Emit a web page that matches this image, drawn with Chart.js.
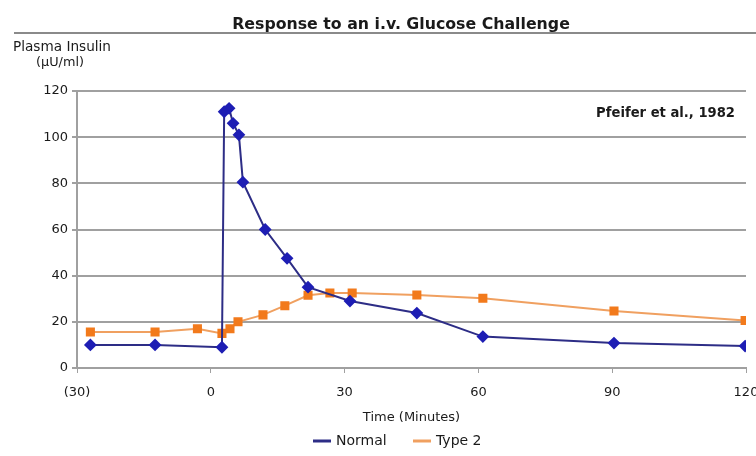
<!DOCTYPE html>
<html lang="en">
<head>
    <meta charset="UTF-8">
    <title>Response to an i.v. Glucose Challenge</title>
    <script src="https://cdn.jsdelivr.net/npm/chart.js"></script>
    <style>
        html, body { margin: 0; padding: 0; background: #fff; overflow: hidden; }
        #wrap { position: relative; width: 756px; height: 456px; }
    </style>
</head>
<body>
    <div id="wrap"><canvas id="insulinChart"></canvas></div>

    <script>
        // Normal subjects (minutes / µU/ml)
        const normalTime = [-27, -12.5, 2.5, 3.0, 4.1, 5.0, 6.3, 7.2, 12.2, 17.1, 21.8, 31.2, 46.2, 61, 90.4, 119.8];
        const normalInsulin = [10, 10, 9, 111, 112.5, 106, 101, 80.5, 60, 47.5, 35, 29, 23.8, 13.6, 10.8, 9.5];

        // Type 2 subjects
        const type2Time = [-27, -12.5, -3, 2.5, 4.3, 6.1, 11.7, 16.6, 21.8, 26.7, 31.7, 46.2, 61, 90.4, 119.8];
        const type2Insulin = [15.6, 15.6, 17, 15, 17, 20, 23, 27, 31.5, 32.5, 32.5, 31.6, 30.2, 24.7, 20.6];

        const xTicks = [-30, 0, 30, 60, 90, 120];
        const yTicks = [0, 20, 40, 60, 80, 100, 120];
        const seriesNames = ["Normal", "Type 2"];

        const font = "'DejaVu Sans', 'Liberation Sans', sans-serif";

        // pick a font size so the text spans the given width
        function fitFont(ctx, text, width, weight) {
            ctx.font = weight + " 20px " + font;
            const w = ctx.measureText(text).width;
            return weight + " " + (20 * width / w).toFixed(2) + "px " + font;
        }

        // title, y label, citation and legend drawn by hand to match the slide
        const decorations = {
            id: "decorations",
            afterDraw(chart) {
                const ctx = chart.ctx;
                ctx.save();
                ctx.fillStyle = "#1a1a1a";
                ctx.textBaseline = "middle";
                ctx.textAlign = "center";

                let t = "Response to an i.v. Glucose Challenge";
                ctx.font = fitFont(ctx, t, 338, "bold");
                ctx.fillText(t, 401, 25);

                ctx.strokeStyle = "#8a8a8a";
                ctx.lineWidth = 2;
                ctx.beginPath();
                ctx.moveTo(14, 33);
                ctx.lineTo(756, 33);
                ctx.stroke();

                t = "Plasma Insulin";
                ctx.font = fitFont(ctx, t, 98, "normal");
                ctx.fillText(t, 62, 47);
                t = "(\u00b5U/ml)";
                ctx.font = fitFont(ctx, t, 48, "normal");
                ctx.fillText(t, 60, 63);

                t = "Pfeifer et al., 1982";
                ctx.font = fitFont(ctx, t, 139, "bold");
                ctx.textAlign = "right";
                ctx.fillText(t, 735, 114);

                // legend
                ctx.font = "14px " + font;
                ctx.textAlign = "left";
                const items = [
                    { x: 313, color: "#2d2d86" },
                    { x: 413, color: "#f0a060" }
                ];
                items.forEach((it, i) => {
                    ctx.strokeStyle = it.color;
                    ctx.lineWidth = 3;
                    ctx.beginPath();
                    ctx.moveTo(it.x, 441);
                    ctx.lineTo(it.x + 18, 441);
                    ctx.stroke();
                    ctx.fillText(seriesNames[i], it.x + 23, 441);
                });
                ctx.restore();
            }
        };

        new Chart(document.getElementById("insulinChart"), {
            type: "scatter",
            data: {
                datasets: [
                    {
                        label: seriesNames[0],
                        data: normalTime.map((t, i) => ({ x: t, y: normalInsulin[i] })),
                        showLine: true,
                        borderColor: "#2d2d86",
                        borderWidth: 2,
                        pointStyle: "rectRot",
                        pointRadius: 5,
                        pointBackgroundColor: "#1e1eb4",
                        pointBorderColor: "#1e1eb4",
                        order: 1
                    },
                    {
                        label: seriesNames[1],
                        data: type2Time.map((t, i) => ({ x: t, y: type2Insulin[i] })),
                        showLine: true,
                        borderColor: "#f0a060",
                        borderWidth: 2,
                        pointStyle: "rect",
                        pointRadius: 5,
                        pointBackgroundColor: "#f27a1c",
                        pointBorderColor: "#f27a1c",
                        order: 2
                    }
                ]
            },
            options: {
                responsive: true,
                maintainAspectRatio: false,
                animation: false,
                layout: { padding: { top: 91, left: 0, right: 0, bottom: 27 } },
                plugins: {
                    legend: { display: false },
                    tooltip: { enabled: false }
                },
                scales: {
                    x: {
                        type: "linear",
                        min: -30,
                        max: 120,
                        afterBuildTicks: s => { s.ticks = xTicks.map(v => ({ value: v })); },
                        afterFit: s => { s.height = 61; s.paddingLeft = 0; s.paddingRight = 10; },
                        ticks: {
                            color: "#1a1a1a",
                            font: { family: font, size: 13 },
                            padding: 12,
                            maxRotation: 0,
                            callback: v => v < 0 ? "(" + (-v) + ")" : v
                        },
                        grid: { drawOnChartArea: false, drawTicks: true, tickLength: 5, color: "#a0a0a0", lineWidth: 1 },
                        border: { color: "#a0a0a0", width: 2 },
                        title: {
                            display: true,
                            text: "Time (Minutes)",
                            color: "#1a1a1a",
                            font: { family: font, size: 13 },
                            padding: { top: 4, bottom: 4 }
                        }
                    },
                    y: {
                        min: 0,
                        max: 120,
                        afterBuildTicks: s => { s.ticks = yTicks.map(v => ({ value: v })); },
                        afterFit: s => { s.width = 77; },
                        ticks: {
                            color: "#1a1a1a",
                            font: { family: font, size: 13 },
                            padding: 4
                        },
                        grid: { color: "#a0a0a0", lineWidth: 2, drawTicks: true, tickLength: 5 },
                        border: { color: "#a0a0a0", width: 2 }
                    }
                }
            },
            plugins: [decorations]
        });
    </script>
</body>
</html>
